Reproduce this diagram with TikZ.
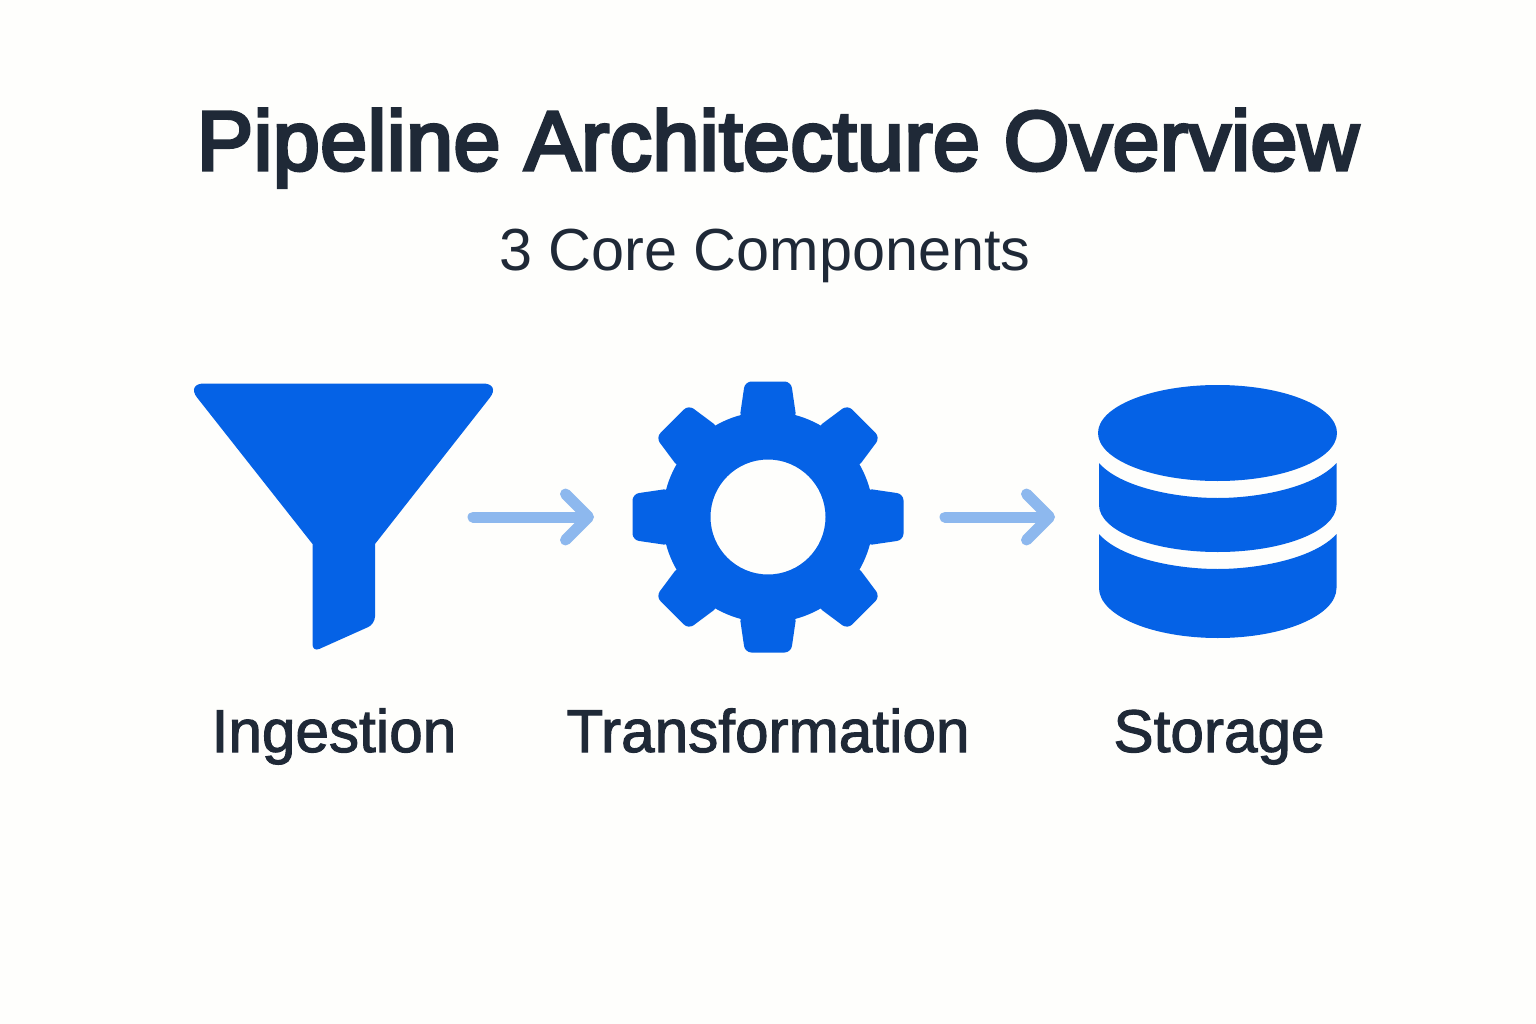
\documentclass[tikz,border=0pt]{standalone}
\usepackage{fontspec}
\setmainfont{Liberation Sans}
\newfontfamily\labelfont[FakeBold=1.8]{Liberation Sans}
\newfontfamily\headfont[FakeBold=4, LetterSpace=0.6]{Liberation Sans}
\usetikzlibrary{arrows.meta}
\definecolor{iconblue}{HTML}{0562E6}
\definecolor{flowblue}{HTML}{8DB8EE}
\definecolor{inkdark}{HTML}{1F2937}
\definecolor{paperwhite}{HTML}{FEFEFC}

\begin{document}
\begin{tikzpicture}[
  x=0.02cm, y=0.02cm,
  heading/.style={anchor=base, inner sep=0pt, text=inkdark, font=\fontsize{48}{60}\selectfont\headfont},
  subheading/.style={anchor=base, inner sep=0pt, text=inkdark, font=\fontsize{33.8}{40}\selectfont},
  iconlabel/.style={anchor=base, inner sep=0pt, text=inkdark, font=\fontsize{34.3}{42}\selectfont\labelfont},
  icon/.style={fill=iconblue, draw=none},
  flow/.style={-{Straight Barb[length=0.46cm, width=0.92cm, round]}, draw=flowblue, line width=0.22cm, line cap=round}
]
  % Page
  \fill[paperwhite] (0, 0) rectangle (1536, -1024);

  % Headings
  \node[heading] (title) at (778, -170) {Pipeline Architecture Overview};
  \node[subheading] (subtitle) at (765, -270) {3 Core Components};

  % Funnel
  \fill[icon] (312.5, -544) [rounded corners=0.36cm] -- (186, -383.5) -- (501, -383.5) [sharp corners] -- (375, -544)
    [rounded corners=0.15cm] -- (375, -624) -- (312.5, -652) [sharp corners] -- (312.5, -544) -- cycle;

  % Gear
  \coordinate (gear) at (768, -517);
  \fill[icon, even odd rule] (gear) circle (105.5) (gear) circle (57.5);
  \begin{scope}[shift={(gear)}]
    \foreach \ang in {0, 45, ..., 315}
      \fill[icon, rotate=\ang, rounded corners=0.13cm] (-28.5, 98) -- (-23, 135.5) -- (23, 135.5) -- (28.5, 98) -- cycle;
  \end{scope}

  % Cylinder
  \fill[icon] (1217.5, -433) ellipse (119.5 and 48);
  \fill[icon] (1099, -463) .. controls (1120, -487) and (1175, -498) .. (1217.5, -498)
    .. controls (1260, -498) and (1315, -487) .. (1336.5, -463) -- (1336.5, -505)
    arc[start angle=0, end angle=-180, x radius=118.75, y radius=47] -- cycle;
  \fill[icon] (1099, -534) .. controls (1120, -558) and (1175, -569) .. (1217.5, -569)
    .. controls (1260, -569) and (1315, -558) .. (1336.5, -534) -- (1336.5, -588)
    arc[start angle=0, end angle=-180, x radius=118.75, y radius=50] -- cycle;

  % Arrows
  \coordinate (funnelout) at (473, -517);
  \coordinate (gearin) at (594, -517);
  \coordinate (gearout) at (945, -517);
  \coordinate (storagein) at (1055, -517);
  \draw[flow] (funnelout) -- (gearin);
  \draw[flow] (gearout) -- (storagein);

  % Labels
  \node[iconlabel] (ingestion) at (334, -752) {Ingestion};
  \node[iconlabel] (transformation) at (768, -752) {Transformation};
  \node[iconlabel] (storage) at (1219, -752) {Storage};
\end{tikzpicture}
\end{document}
